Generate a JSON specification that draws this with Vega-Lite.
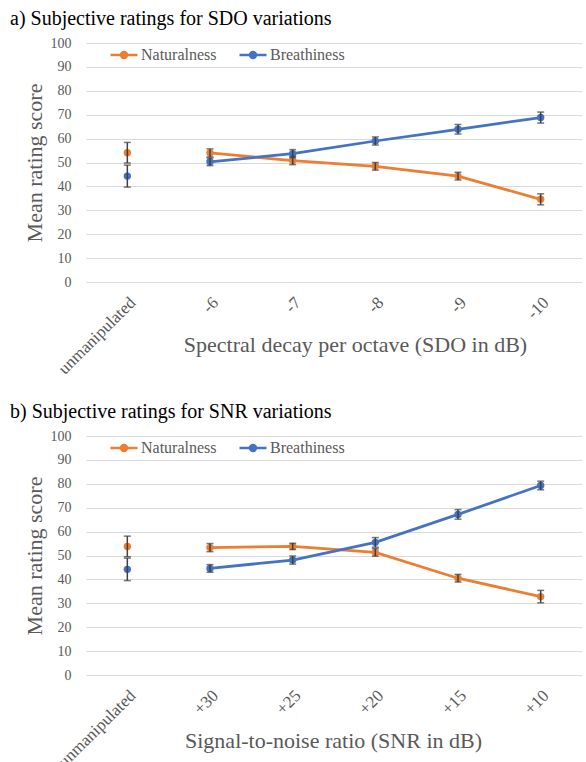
{
  "$schema": "https://vega.github.io/schema/vega-lite/v6.json",
  "background": "white",
  "padding": {"left": 10, "top": 9, "right": 0, "bottom": 0},
  "spacing": 25,
  "config": {
    "view": {"stroke": null},
    "font": "Liberation Serif",
    "axis": {
      "labelFont": "Liberation Serif",
      "titleFont": "Liberation Serif",
      "labelColor": "#595959",
      "titleColor": "#595959",
      "labelFontSize": 14,
      "titleFontSize": 22,
      "titleFontWeight": "normal",
      "domain": false,
      "ticks": false,
      "gridColor": "#d9d9d9",
      "gridWidth": 1
    },
    "legend": {
      "orient": "none",
      "legendX": 23,
      "legendY": -3,
      "direction": "horizontal",
      "symbolType": "M-1,0H1M-0.22,0A0.22,0.22 0 1,1 0.22,0A0.22,0.22 0 1,1 -0.22,0Z",
      "symbolSize": 729,
      "symbolStrokeWidth": 2.5,
      "labelFont": "Liberation Serif",
      "labelFontSize": 16,
      "labelColor": "#595959",
      "labelOffset": 2,
      "columnPadding": 17,
      "padding": 0
    },
    "title": {"font": "Liberation Serif", "fontSize": 20, "fontWeight": "normal", "anchor": "start", "color": "#000000", "frame": "group"}
  },
  "datasets": {
    "sdo": [
      {"cond": "unmanipulated", "series": "Naturalness", "mean": 54.1, "err": 4.3},
      {"cond": "unmanipulated", "series": "Breathiness", "mean": 44.3, "err": 4.6},
      {"cond": "-6", "series": "Naturalness", "mean": 54.0, "err": 1.7},
      {"cond": "-6", "series": "Breathiness", "mean": 50.3, "err": 1.6},
      {"cond": "-7", "series": "Naturalness", "mean": 50.8, "err": 1.7},
      {"cond": "-7", "series": "Breathiness", "mean": 53.7, "err": 1.7},
      {"cond": "-8", "series": "Naturalness", "mean": 48.4, "err": 1.6},
      {"cond": "-8", "series": "Breathiness", "mean": 59.0, "err": 1.7},
      {"cond": "-9", "series": "Naturalness", "mean": 44.3, "err": 1.6},
      {"cond": "-9", "series": "Breathiness", "mean": 63.9, "err": 2.0},
      {"cond": "-10", "series": "Naturalness", "mean": 34.6, "err": 2.3},
      {"cond": "-10", "series": "Breathiness", "mean": 68.8, "err": 2.3}
    ],
    "snr": [
      {"cond": "unmanipulated", "series": "Naturalness", "mean": 53.8, "err": 4.3},
      {"cond": "unmanipulated", "series": "Breathiness", "mean": 44.2, "err": 4.7},
      {"cond": "+30", "series": "Naturalness", "mean": 53.3, "err": 1.7},
      {"cond": "+30", "series": "Breathiness", "mean": 44.6, "err": 1.6},
      {"cond": "+25", "series": "Naturalness", "mean": 53.8, "err": 1.3},
      {"cond": "+25", "series": "Breathiness", "mean": 48.1, "err": 1.7},
      {"cond": "+20", "series": "Naturalness", "mean": 51.3, "err": 1.6},
      {"cond": "+20", "series": "Breathiness", "mean": 55.5, "err": 2.0},
      {"cond": "+15", "series": "Naturalness", "mean": 40.5, "err": 1.6},
      {"cond": "+15", "series": "Breathiness", "mean": 67.2, "err": 2.0},
      {"cond": "+10", "series": "Naturalness", "mean": 32.8, "err": 2.6},
      {"cond": "+10", "series": "Breathiness", "mean": 79.3, "err": 1.8}
    ]
  },
  "resolve": {"legend": {"color": "independent"}},
  "vconcat": [
    {
      "width": 496,
      "height": 239,
      "title": {"text": "a) Subjective ratings for SDO variations", "dx": -76, "offset": 7},
      "data": {"name": "sdo"},
      "encoding": {
        "x": {
          "field": "cond", "type": "nominal",
          "sort": ["unmanipulated", "-6", "-7", "-8", "-9", "-10"],
          "axis": {"labelAngle": -45, "labelPadding": 12, "labelFontSize": 17, "title": "Spectral decay per octave (SDO in dB)", "titleX": 269, "titleY": 52, "titleAnchor": "middle", "titleAlign": "center"}
        },
        "y": {
          "field": "mean", "type": "quantitative",
          "scale": {"domain": [0, 100]},
          "axis": {"values": [0, 10, 20, 30, 40, 50, 60, 70, 80, 90, 100], "grid": true, "title": "Mean rating score", "labelPadding": 15, "titlePadding": 4}
        },
        "color": {
          "field": "series", "type": "nominal",
          "scale": {"domain": ["Naturalness", "Breathiness"], "range": ["#ED7D31", "#4472C4"]},
          "legend": {"title": null, "encode": {"symbols": {"update": {"fill": {"scale": "color", "field": "value"}, "stroke": {"scale": "color", "field": "value"}, "opacity": {"value": 1}}}}}
        }
      },
      "layer": [
        {"transform": [{"filter": "datum.cond !== 'unmanipulated'"}], "mark": {"type": "line", "strokeWidth": 2.75}},
        {"mark": {"type": "point", "filled": true, "size": 55, "opacity": 1}},
        {"mark": {"type": "errorbar", "ticks": {"size": 7}, "rule": {"strokeWidth": 1.5}, "thickness": 1.5}, "encoding": {"yError": {"field": "err"}, "color": {"value": "#404040"}}}
      ]
    },
    {
      "width": 496,
      "height": 239,
      "title": {"text": "b) Subjective ratings for SNR variations", "dx": -76, "offset": 7},
      "data": {"name": "snr"},
      "encoding": {
        "x": {
          "field": "cond", "type": "nominal",
          "sort": ["unmanipulated", "+30", "+25", "+20", "+15", "+10"],
          "axis": {"labelAngle": -45, "labelPadding": 12, "labelFontSize": 17, "title": "Signal-to-noise ratio (SNR in dB)", "titleX": 247, "titleY": 55, "titleAnchor": "middle", "titleAlign": "center"}
        },
        "y": {
          "field": "mean", "type": "quantitative",
          "scale": {"domain": [0, 100]},
          "axis": {"values": [0, 10, 20, 30, 40, 50, 60, 70, 80, 90, 100], "grid": true, "title": "Mean rating score", "labelPadding": 15, "titlePadding": 4}
        },
        "color": {
          "field": "series", "type": "nominal",
          "scale": {"domain": ["Naturalness", "Breathiness"], "range": ["#ED7D31", "#4472C4"]},
          "legend": {"title": null, "encode": {"symbols": {"update": {"fill": {"scale": "color", "field": "value"}, "stroke": {"scale": "color", "field": "value"}, "opacity": {"value": 1}}}}}
        }
      },
      "layer": [
        {"transform": [{"filter": "datum.cond !== 'unmanipulated'"}], "mark": {"type": "line", "strokeWidth": 2.75}},
        {"mark": {"type": "point", "filled": true, "size": 55, "opacity": 1}},
        {"mark": {"type": "errorbar", "ticks": {"size": 7}, "rule": {"strokeWidth": 1.5}, "thickness": 1.5}, "encoding": {"yError": {"field": "err"}, "color": {"value": "#404040"}}}
      ]
    }
  ]
}
